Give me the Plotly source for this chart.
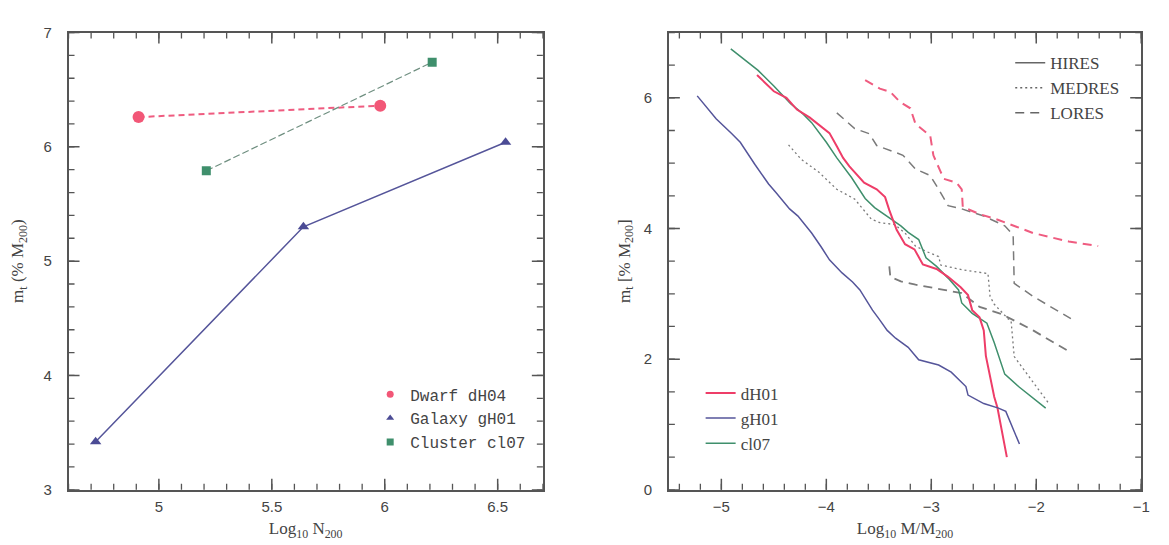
import plotly.graph_objects as go

# ---------------- Left panel data ----------------
dwarf_x = [4.91, 5.98]
dwarf_y = [6.26, 6.36]
galaxy_x = [4.72, 5.64, 6.535]
galaxy_y = [3.42, 5.30, 6.04]
cluster_x = [5.21, 6.21]
cluster_y = [5.79, 6.74]

# ---------------- Right panel data ----------------
dH01_x = [-4.66, -4.50, -4.38, -4.28, -4.16, -4.05, -3.97, -3.90, -3.84, -3.78, -3.70, -3.64,
          -3.52, -3.44, -3.40, -3.33, -3.25, -3.16, -3.08, -2.95, -2.84, -2.72, -2.65, -2.61,
          -2.54, -2.50, -2.48, -2.45, -2.40, -2.37, -2.28]
dH01_y = [6.35, 6.10, 6.00, 5.82, 5.70, 5.56, 5.46, 5.26, 5.08, 4.95, 4.80, 4.70,
          4.60, 4.48, 4.28, 3.98, 3.76, 3.68, 3.45, 3.38, 3.26, 3.10, 2.98, 2.75,
          2.64, 2.44, 2.05, 1.83, 1.42, 1.26, 0.50]

gH01_x = [-5.23, -5.05, -4.90, -4.82, -4.68, -4.55, -4.48, -4.35, -4.27, -4.14, -4.05, -3.97,
          -3.85, -3.75, -3.68, -3.56, -3.50, -3.42, -3.34, -3.22, -3.12, -2.93, -2.81, -2.74,
          -2.67, -2.65, -2.50, -2.36, -2.29, -2.16]
gH01_y = [6.03, 5.68, 5.45, 5.32, 4.98, 4.68, 4.55, 4.30, 4.19, 3.93, 3.72, 3.52,
          3.32, 3.18, 3.06, 2.75, 2.62, 2.44, 2.32, 2.18, 1.99, 1.91, 1.80, 1.69,
          1.58, 1.45, 1.32, 1.25, 1.20, 0.70]

cl07_x = [-4.91, -4.78, -4.65, -4.50, -4.34, -4.22, -4.14, -4.00, -3.90, -3.76, -3.63, -3.54,
          -3.42, -3.34, -3.29, -3.22, -3.12, -3.05, -2.95, -2.84, -2.74, -2.71, -2.61, -2.47,
          -2.40, -2.30, -2.16, -1.91]
cl07_y = [6.75, 6.58, 6.42, 6.18, 5.91, 5.75, 5.62, 5.32, 5.08, 4.78, 4.46, 4.32,
          4.19, 4.09, 4.04, 3.94, 3.83, 3.55, 3.42, 3.24, 3.06, 2.86, 2.70, 2.55,
          2.25, 1.77, 1.57, 1.25]

med_x = [-4.36, -4.24, -4.07, -3.90, -3.73, -3.57, -3.49, -3.35, -3.25, -3.15, -3.05, -2.93,
         -2.91, -2.71, -2.46, -2.44, -2.40, -2.27, -2.24, -2.21, -2.16, -2.05, -1.88]
med_y = [5.28, 5.06, 4.86, 4.60, 4.45, 4.14, 4.09, 4.06, 3.93, 3.73, 3.65, 3.57,
         3.44, 3.37, 3.31, 2.96, 2.84, 2.62, 2.59, 2.04, 1.93, 1.69, 1.32]

lo_red_x = [-3.63, -3.49, -3.39, -3.30, -3.20, -3.15, -3.01, -2.98, -2.92, -2.88, -2.76, -2.71,
            -2.70, -2.54, -2.36, -2.03, -1.69, -1.41]
lo_red_y = [6.27, 6.14, 6.09, 5.94, 5.84, 5.60, 5.42, 5.12, 4.90, 4.76, 4.70, 4.60,
            4.33, 4.22, 4.13, 3.93, 3.80, 3.73]

lo_gray1_x = [-3.90, -3.73, -3.59, -3.52, -3.35, -3.27, -3.15, -3.01, -2.93, -2.84, -2.71, -2.50,
              -2.30, -2.22, -2.21, -2.03, -1.67]
lo_gray1_y = [5.77, 5.53, 5.45, 5.27, 5.17, 5.12, 4.91, 4.81, 4.60, 4.35, 4.30, 4.19,
              4.04, 3.90, 3.16, 2.96, 2.62]

lo_gray2_x = [-3.40, -3.39, -3.29, -3.15, -2.88, -2.71, -2.54, -2.33, -2.03, -1.68]
lo_gray2_y = [3.42, 3.26, 3.19, 3.14, 3.06, 3.01, 2.80, 2.69, 2.44, 2.11]

# ---------------- tick values ----------------
left_x_major = [5, 5.5, 6, 6.5]
left_x_minor = [round(4.6 + 0.1 * i, 2) for i in range(22)]
left_y_major = [3, 4, 5, 6, 7]
left_y_minor = [round(3 + 0.2 * i, 2) for i in range(21)]
right_x_major = [-5, -4, -3, -2, -1]
right_x_minor = [round(-5.4 + 0.2 * i, 2) for i in range(23)]
right_y_major = [0, 2, 4, 6]
right_y_minor = [round(0.5 * i, 2) for i in range(15)]

RED = "#ee3d68"
RED_D = "#ef5c80"
BLUE = "#55559a"
GREEN = "#3f8f6c"
GRAY = "#7a7a7a"
AXC = "#555555"
TXT = "#444444"

fig = go.Figure()

# ---- left panel ----
fig.add_trace(go.Scatter(x=dwarf_x, y=dwarf_y, mode="lines+markers", xaxis="x", yaxis="y",
                         line=dict(color=RED_D, width=2, dash="6px,4px"),
                         marker=dict(symbol="circle", size=12, color="#f25777"), showlegend=False))
fig.add_trace(go.Scatter(x=galaxy_x, y=galaxy_y, mode="lines+markers", xaxis="x", yaxis="y",
                         line=dict(color=BLUE, width=1.5),
                         marker=dict(symbol="triangle-up", size=10, color="#4b4b95"), showlegend=False))
fig.add_trace(go.Scatter(x=cluster_x, y=cluster_y, mode="lines+markers", xaxis="x", yaxis="y",
                         line=dict(color="#6f8f80", width=1.2, dash="7px,3px"),
                         marker=dict(symbol="square", size=9, color="#3f8f6c"), showlegend=False))
for nm, sym, col in [("Dwarf dH04", "circle", "#f25777"), ("Galaxy gH01", "triangle-up", "#4b4b95"),
                     ("Cluster cl07", "square", "#3f8f6c")]:
    fig.add_trace(go.Scatter(x=[None], y=[None], mode="markers", name=nm, xaxis="x", yaxis="y",
                             marker=dict(symbol=sym, size=7, color=col), legend="legend"))

# ---- right panel ----
fig.add_trace(go.Scatter(x=lo_gray1_x, y=lo_gray1_y, mode="lines", xaxis="x2", yaxis="y2",
                         line=dict(color=GRAY, width=1.5, dash="9px,6px"), showlegend=False))
fig.add_trace(go.Scatter(x=lo_gray2_x, y=lo_gray2_y, mode="lines", xaxis="x2", yaxis="y2",
                         line=dict(color=GRAY, width=1.8, dash="9px,6px"), showlegend=False))
fig.add_trace(go.Scatter(x=lo_red_x, y=lo_red_y, mode="lines", xaxis="x2", yaxis="y2",
                         line=dict(color=RED_D, width=2, dash="9px,6px"), showlegend=False))
fig.add_trace(go.Scatter(x=med_x, y=med_y, mode="lines", xaxis="x2", yaxis="y2",
                         line=dict(color=GRAY, width=1.3, dash="2px,3px"), showlegend=False))
fig.add_trace(go.Scatter(x=cl07_x, y=cl07_y, mode="lines", name="cl07", xaxis="x2", yaxis="y2",
                         line=dict(color=GREEN, width=1.5), legend="legend3", legendrank=3))
fig.add_trace(go.Scatter(x=dH01_x, y=dH01_y, mode="lines", name="dH01", xaxis="x2", yaxis="y2",
                         line=dict(color=RED, width=2), legend="legend3", legendrank=1))
fig.add_trace(go.Scatter(x=gH01_x, y=gH01_y, mode="lines", name="gH01", xaxis="x2", yaxis="y2",
                         line=dict(color=BLUE, width=1.5), legend="legend3", legendrank=2))

for nm, dsh in [("HIRES", "solid"), ("MEDRES", "2px,3px"), ("LORES", "9px,6px")]:
    fig.add_trace(go.Scatter(x=[None], y=[None], mode="lines", name=nm, xaxis="x2", yaxis="y2",
                             line=dict(color="#666666", width=1.5, dash=dsh), legend="legend2"))


def axis(rng, dtick, tick0, domain, anchor, title, side_y=False):
    d = dict(range=rng, tickmode="linear", dtick=dtick, tick0=tick0, domain=domain, anchor=anchor,
             ticks="", showline=True, linecolor=AXC, linewidth=1.6, mirror=True,
             showgrid=False, zeroline=False,
             tickfont=dict(family="Liberation Sans, Arial", size=15, color=TXT),
             title=dict(text=title, font=dict(family="Liberation Serif", size=17, color=TXT)))
    d["ticklabelstandoff"] = 12 if side_y else 2
    return d


# tick marks drawn inside the frame, placed by the axes' own scales
shapes = []


def xticks(vals, xref, yref, length, width):
    for v in vals:
        for anc, sgn in [(0, 1), (1, -1)]:
            shapes.append(dict(type="line", xref=xref, yref=yref + " domain", x0=v, x1=v,
                               ysizemode="pixel", yanchor=anc, y0=0, y1=sgn * length,
                               line=dict(color=AXC, width=width), layer="above"))


def yticks(vals, xref, yref, length, width):
    for v in vals:
        for anc, sgn in [(0, 1), (1, -1)]:
            shapes.append(dict(type="line", xref=xref + " domain", yref=yref, y0=v, y1=v,
                               xsizemode="pixel", xanchor=anc, x0=0, x1=sgn * length,
                               line=dict(color=AXC, width=width), layer="above"))


xticks(left_x_minor, "x", "y", 6, 1.3)
xticks(left_x_major, "x", "y", 11, 1.5)
yticks(left_y_minor, "x", "y", 6, 1.3)
yticks(left_y_major, "x", "y", 11, 1.5)
xticks(right_x_minor, "x2", "y2", 6, 1.3)
xticks(right_x_major, "x2", "y2", 11, 1.5)
yticks(right_y_minor, "x2", "y2", 6, 1.3)
yticks(right_y_major, "x2", "y2", 11, 1.5)

L = [61 / 1169, 539 / 1169]
R = [666 / 1169, 1142 / 1169]
Y = [1 - 488 / 545, 1 - 16 / 545]

xa = axis([4.6, 6.7], 0.5, 5, L, "y", "Log<sub>10</sub> N<sub>200</sub>")
xa["title"]["standoff"] = 9
ya = axis([3, 7], 1, 3, Y, "x", "m<sub>t</sub> (% M<sub>200</sub>)", side_y=True)
ya["title"]["standoff"] = 17
xa2 = axis([-5.5, -1], 1, -5, R, "y2", "Log<sub>10</sub> M/M<sub>200</sub>")
xa2["title"]["standoff"] = 9
ya2 = axis([0, 7], 2, 0, Y, "x2", "m<sub>t</sub> [% M<sub>200</sub>]", side_y=True)
ya2["title"]["standoff"] = 9

fig.update_layout(
    width=1169, height=545,
    margin=dict(l=0, r=0, t=0, b=0),
    paper_bgcolor="white", plot_bgcolor="white",
    xaxis=xa, yaxis=ya, xaxis2=xa2, yaxis2=ya2,
    shapes=shapes,
    legend=dict(x=365 / 1169, y=1 - 372 / 545, xanchor="left", yanchor="top",
                bgcolor="rgba(0,0,0,0)", tracegroupgap=0,
                font=dict(family="Liberation Mono", size=16, color=TXT)),
    legend2=dict(x=1010 / 1169, y=1 - 29 / 545, xanchor="left", yanchor="top",
                 bgcolor="rgba(0,0,0,0)",
                 font=dict(family="Liberation Serif", size=17, color=TXT)),
    legend3=dict(x=698 / 1169, y=1 - 370 / 545, xanchor="left", yanchor="top",
                 bgcolor="rgba(0,0,0,0)", traceorder="normal",
                 font=dict(family="Liberation Serif", size=17, color=TXT)),
)

fig.write_html("out.html")
